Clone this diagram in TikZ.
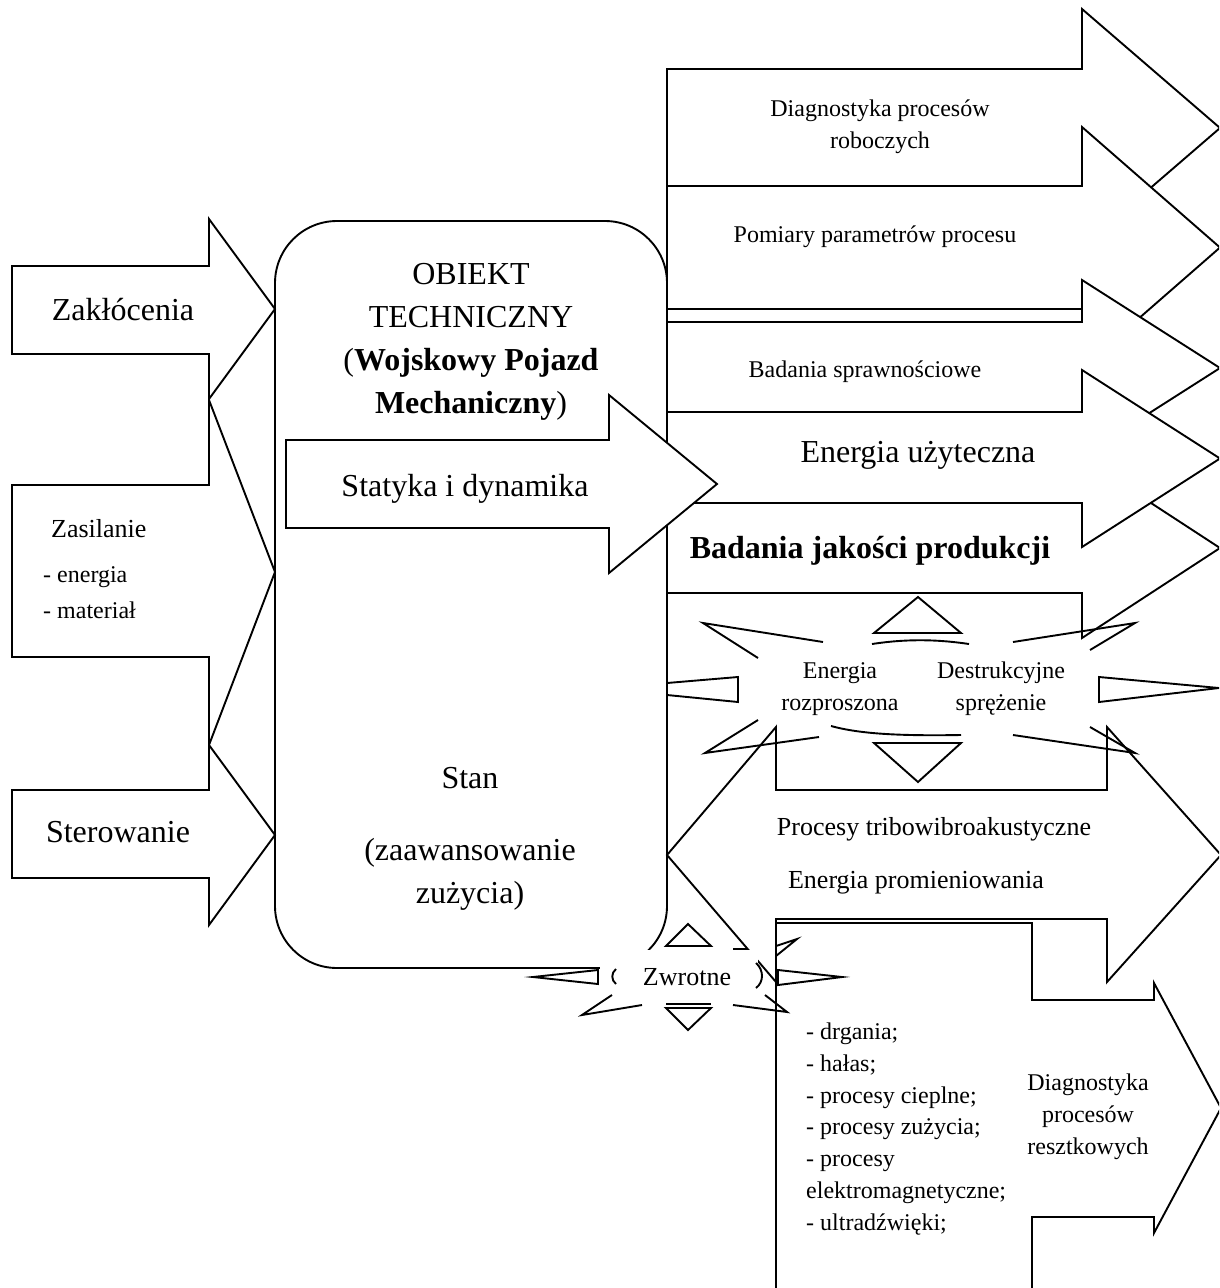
\documentclass[tikz,border=0pt]{standalone}
\usepackage{fontspec}
\setmainfont{Liberation Serif}
\tikzset{
    block/.style={draw, fill=white, line width=1.9pt, line join=miter},
    spike/.style={draw, line width=1.9pt, line join=miter},
    big text/.style={font=\fontsize{32}{43}\selectfont, inner sep=0pt, anchor=base},
    mid text/.style={font=\fontsize{26}{32}\selectfont, inner sep=0pt, anchor=base},
    small text/.style={font=\fontsize{24}{31.7}\selectfont, inner sep=0pt, anchor=base},
}
\begin{document}
\begin{tikzpicture}[x=1pt, y=-1pt]
    \useasboundingbox (0,0) rectangle (1219,1288);
    \clip (0,0) rectangle (1219,1288);

    % technical object
    \draw[block, rounded corners=62pt] (275,221) rectangle (667,968);

    % inputs
    \draw[block] (12,266) -- (209,266) -- (209,219) -- (275,309) -- (209,399) -- (209,354) -- (12,354) -- cycle;
    \draw[block] (12,485) -- (209,485) -- (209,400) -- (275,572) -- (209,745) -- (209,657) -- (12,657) -- cycle;
    \draw[block] (12,790) -- (209,790) -- (209,745) -- (275,835) -- (209,925) -- (209,878) -- (12,878) -- cycle;

    % outputs
    \foreach \btop/\bbot/\htop/\hbot in {69/186/9/247, 186/309/127/368, 322/412/280/456, 503/593/458/638, 412/503/370/547}
        \draw[block] (667,\btop) -- (1082,\btop) -- (1082,\htop) -- (1220,{(\htop+\hbot)/2})
            -- (1082,\hbot) -- (1082,\bbot) -- (667,\bbot) -- cycle;

    % statics and dynamics
    \draw[block] (286,440) -- (609,440) -- (609,395) -- (717,484) -- (609,573) -- (609,528) -- (286,528) -- cycle;

    % tribo-vibro-acoustic processes
    \draw[block] (667,855) -- (776,727) -- (776,790) -- (1107,790) -- (1107,727) -- (1221,855)
        -- (1107,982) -- (1107,919) -- (776,919) -- (776,982) -- cycle;

    % dissipated energy burst
    \draw[spike] (874,633) -- (918,597) -- (961,633) -- cycle;
    \draw[spike] (872,644) .. controls (905,639) and (935,639) .. (969,644);
    \draw[spike] (823,642) -- (703,623) -- (758,658);
    \draw[spike] (1013,642) -- (1135,623) -- (1090,650);
    \draw[spike] (667,683) -- (738,677) -- (738,702) -- (667,695);
    \draw[spike] (1099,677) -- (1219,688) -- (1099,702) -- cycle;
    \draw[spike] (758,720) -- (705,753) -- (819,737);
    \draw[spike] (1013,735) -- (1135,753) -- (1090,727);
    \draw[spike] (831,726) .. controls (860,734) and (900,736) .. (961,735);
    \draw[spike] (874,743) -- (961,743) -- (918,782) -- cycle;

    % residual processes
    \draw[block] (776,923) -- (1032,923) -- (1032,1000) -- (1154,1000) -- (1154,983) -- (1221,1108)
        -- (1154,1233) -- (1154,1217) -- (1032,1217) -- (1032,1300) -- (776,1300) -- cycle;

    % feedback burst
    \fill[white] (600,950) rectangle (758,1003);
    \draw[spike] (666,946) -- (688,924) -- (711,946) -- cycle;
    \draw[spike] (666,1004) -- (711,1004);
    \draw[spike] (666,1008) -- (711,1008) -- (688,1030) -- cycle;
    \draw[spike] (598,970) -- (533,977) -- (598,984) -- cycle;
    \draw[spike] (616,969) .. controls (611,973) and (611,980) .. (616,984);
    \draw[spike] (612,995) -- (582,1015) -- (642,1005);
    \draw[spike] (733,1005) -- (787,1012) -- (765,995);
    \draw[spike] (756,963) .. controls (764,970) and (764,982) .. (756,988);
    \draw[spike] (733,949) -- (747,949);
    \draw[spike] (776,946) -- (797,939) -- (776,956);
    \draw[spike] (778,970) -- (842,977) -- (778,985) -- cycle;

    % labels (base of a multi-line node = its last line)
    \node[big text] (zaklocenia) at (123,320) {Zakłócenia};
    \node[mid text, anchor=base west] (zasilanie) at (51,537) {Zasilanie};
    \node[small text, anchor=base west] (energia) at (43,582) {- energia};
    \node[small text, anchor=base west] (material) at (43,618) {- materiał};
    \node[big text] (sterowanie) at (118,842) {Sterowanie};

    \node[big text, align=center] (obiekt) at (471,413) {OBIEKT\\TECHNICZNY\\(\textbf{Wojskowy Pojazd}\\\textbf{Mechaniczny})};
    \node[big text] (statyka) at (465,496) {Statyka i dynamika};
    \node[big text] (stan) at (470,788) {Stan};
    \node[big text, align=center] (zaawansowanie) at (470,903) {(zaawansowanie\\zużycia)};

    \node[small text, align=center] (robocze) at (880,148) {Diagnostyka procesów\\roboczych};
    \node[small text] (pomiary) at (875,242) {Pomiary parametrów procesu};
    \node[small text] (sprawnosc) at (865,377) {Badania sprawnościowe};
    \node[big text] (uzyteczna) at (918,462) {Energia użyteczna};
    \node[big text, font=\fontsize{32}{43}\selectfont\bfseries] (jakosc) at (870,558) {Badania jakości produkcji};

    \node[small text, align=center] (rozproszona) at (840,710) {Energia\\rozproszona};
    \node[small text, align=center] (destrukcja) at (1001,710) {Destrukcyjne\\sprężenie};
    \node[mid text] (tribo) at (934,835) {Procesy tribowibroakustyczne};
    \node[mid text] (promieniowanie) at (916,888) {Energia promieniowania};
    \node[mid text] (zwrotne) at (687,985) {Zwrotne};

    \node[small text, anchor=base west, align=left] (objawy) at (806,1230)
        {- drgania;\\- hałas;\\- procesy cieplne;\\- procesy zużycia;\\- procesy\\elektromagnetyczne;\\- ultradźwięki;};
    \node[small text, align=center] (resztkowe) at (1088,1154) {Diagnostyka\\procesów\\resztkowych};
\end{tikzpicture}
\end{document}
